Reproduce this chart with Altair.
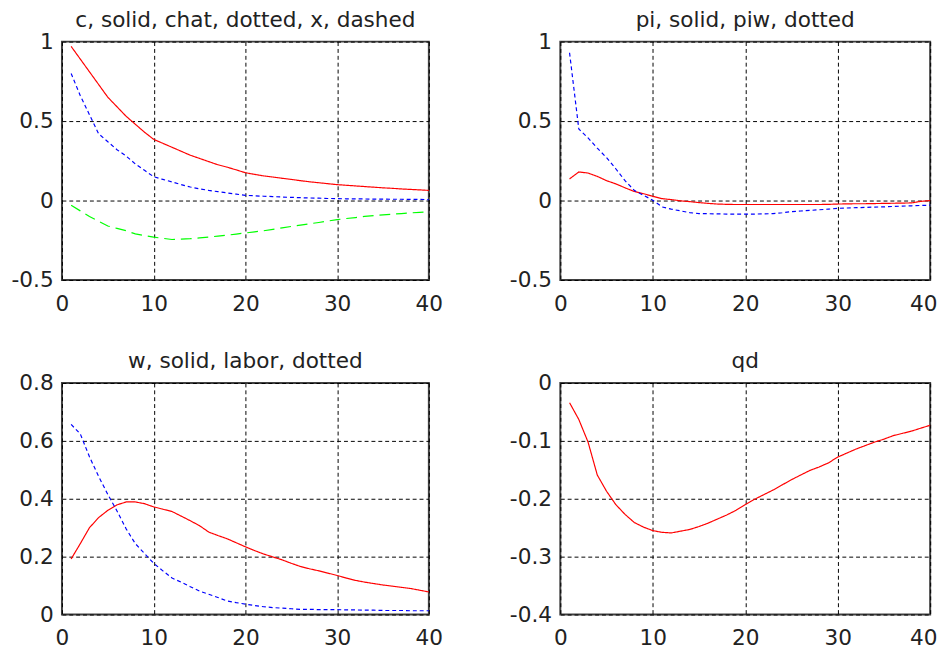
import altair as alt
import pandas as pd

steps = list(range(1, 41))

c_vals = [0.97, 0.89, 0.81, 0.73, 0.65, 0.59, 0.53, 0.48, 0.43, 0.385,
          0.36, 0.335, 0.31, 0.285, 0.265, 0.245, 0.225, 0.21, 0.193, 0.175,
          0.165, 0.155, 0.148, 0.14, 0.133, 0.125, 0.118, 0.112, 0.106, 0.10,
          0.096, 0.092, 0.088, 0.084, 0.08, 0.077, 0.073, 0.07, 0.067, 0.064]
chat_vals = [0.80, 0.66, 0.54, 0.42, 0.37, 0.32, 0.28, 0.23, 0.19, 0.15,
             0.133, 0.117, 0.10, 0.085, 0.074, 0.064, 0.056, 0.048, 0.04, 0.033,
             0.03, 0.027, 0.025, 0.022, 0.02, 0.018, 0.016, 0.015, 0.013, 0.012,
             0.011, 0.010, 0.010, 0.009, 0.009, 0.008, 0.008, 0.007, 0.007, 0.006]
x_vals = [-0.03, -0.065, -0.10, -0.13, -0.16, -0.175, -0.19, -0.21, -0.22, -0.23,
          -0.238, -0.245, -0.243, -0.24, -0.235, -0.23, -0.224, -0.218, -0.211, -0.204,
          -0.197, -0.19, -0.181, -0.172, -0.163, -0.155, -0.146, -0.138, -0.129, -0.12,
          -0.113, -0.107, -0.10, -0.095, -0.09, -0.086, -0.082, -0.078, -0.074, -0.07]

pi_vals = [0.136, 0.18, 0.173, 0.152, 0.125, 0.105, 0.08, 0.057, 0.043, 0.027,
           0.012, 0.006, -0.002, -0.007, -0.013, -0.018, -0.022, -0.024, -0.025, -0.025,
           -0.025, -0.025, -0.025, -0.025, -0.025, -0.025, -0.025, -0.025, -0.024, -0.022,
           -0.021, -0.02, -0.02, -0.019, -0.018, -0.017, -0.016, -0.015, -0.005, 0.0]
piw_vals = [0.93, 0.45, 0.394, 0.33, 0.27, 0.20, 0.125, 0.064, 0.033, 0.002,
            -0.04, -0.054, -0.065, -0.076, -0.082, -0.083, -0.084, -0.085, -0.085, -0.085,
            -0.085, -0.084, -0.082, -0.077, -0.07, -0.066, -0.062, -0.058, -0.054, -0.049,
            -0.047, -0.045, -0.043, -0.041, -0.04, -0.037, -0.035, -0.033, -0.031, -0.029]

w_vals = [0.192, 0.245, 0.30, 0.335, 0.36, 0.379, 0.389, 0.389, 0.383, 0.372,
          0.364, 0.356, 0.34, 0.324, 0.307, 0.285, 0.273, 0.262, 0.248, 0.234,
          0.221, 0.209, 0.199, 0.189, 0.177, 0.166, 0.158, 0.151, 0.143, 0.135,
          0.126, 0.118, 0.112, 0.107, 0.102, 0.098, 0.094, 0.09, 0.084, 0.078]
labor_vals = [0.657, 0.624, 0.545, 0.477, 0.415, 0.358, 0.296, 0.245, 0.211, 0.177,
              0.151, 0.126, 0.112, 0.096, 0.081, 0.07, 0.059, 0.047, 0.041, 0.036,
              0.031, 0.027, 0.024, 0.022, 0.02, 0.018, 0.018, 0.017, 0.017, 0.017,
              0.016, 0.016, 0.015, 0.015, 0.014, 0.014, 0.014, 0.013, 0.013, 0.013]

qd_vals = [-0.034, -0.063, -0.102, -0.159, -0.187, -0.21, -0.227, -0.241, -0.249, -0.255,
           -0.258, -0.259, -0.256, -0.253, -0.248, -0.242, -0.235, -0.228, -0.22, -0.21,
           -0.201, -0.193, -0.185, -0.176, -0.167, -0.159, -0.151, -0.145, -0.138, -0.128,
           -0.121, -0.114, -0.108, -0.102, -0.097, -0.091, -0.087, -0.083, -0.078, -0.073]

x_ticks = [0, 10, 20, 30, 40]

FONT = "DejaVu Sans"
TXT = "#222222"


def panel(title, series, ydomain, yticks, width, height, right=False):
    layers = []
    xaxis = dict(values=x_ticks, title=None, labelExpr="toString(datum.value)",
                 minExtent=30, maxExtent=30)
    if right:
        xaxis["labelOffset"] = {"expr": "datum.value == 40 ? -7 : 0"}
    for name, vals, color, dash in series:
        df = pd.DataFrame({"step": steps, "value": vals})
        layers.append(
            alt.Chart(df).mark_line(strokeWidth=1.2, color=color, strokeDash=dash).encode(
                x=alt.X("step:Q", scale=alt.Scale(domain=[0, 40], nice=False),
                        axis=alt.Axis(**xaxis)),
                y=alt.Y("value:Q", scale=alt.Scale(domain=ydomain, nice=False, zero=False),
                        axis=alt.Axis(values=yticks, title=None,
                                      labelExpr="toString(datum.value)",
                                      minExtent=54, maxExtent=54)),
            )
        )
    tdf = pd.DataFrame({"label": [title]})
    layers.append(
        alt.Chart(tdf).mark_text(font=FONT, fontSize=22, color=TXT, align="center",
                                 baseline="alphabetic").encode(
            text="label:N", x=alt.value(width / 2), y=alt.value(-15))
    )
    return alt.layer(*layers).properties(width=width, height=height)


p1 = panel("c, solid, chat, dotted, x, dashed",
           [("c", c_vals, "#ff0000", [1, 0]),
            ("chat", chat_vals, "#0000ff", [4, 3]),
            ("x", x_vals, "#00ff00", [11, 6])],
           [-0.5, 1], [-0.5, 0, 0.5, 1], 374, 243)
p2 = panel("pi, solid, piw, dotted",
           [("pi", pi_vals, "#ff0000", [1, 0]),
            ("piw", piw_vals, "#0000ff", [4, 3])],
           [-0.5, 1], [-0.5, 0, 0.5, 1], 377, 243, right=True)
p3 = panel("w, solid, labor, dotted",
           [("w", w_vals, "#ff0000", [1, 0]),
            ("labor", labor_vals, "#0000ff", [4, 3])],
           [0, 0.8], [0, 0.2, 0.4, 0.6, 0.8], 374, 236)
p4 = panel("qd",
           [("qd", qd_vals, "#ff0000", [1, 0])],
           [-0.4, 0], [-0.4, -0.3, -0.2, -0.1, 0], 377, 236, right=True)

chart = alt.vconcat(
    alt.hconcat(p1, p2, spacing=64),
    alt.hconcat(p3, p4, spacing=64),
    spacing=35,
).properties(
    padding={"top": -6, "left": 0, "right": 0, "bottom": 0}, background="white"
).configure_view(
    stroke="#404040", strokeWidth=2
).configure_axis(
    grid=True, gridColor="#000000", gridDash=[4, 3], gridOpacity=1, gridWidth=1,
    domain=False, ticks=False, labelFont=FONT, labelFontSize=22, labelColor=TXT,
    labelPadding=9, labelOverlap=False, labelFlush=False,
).configure_axisX(
    labelPadding=14
)

chart.save("out.html", embed_options={"renderer": "svg", "actions": False})
